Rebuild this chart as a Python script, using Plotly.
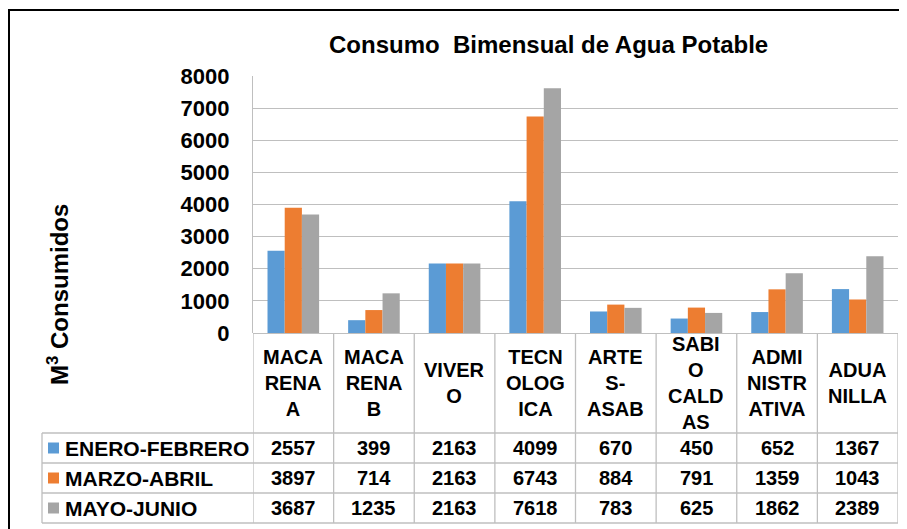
import plotly.graph_objects as go

# ---- data ----
categories = ["MACARENA A", "MACARENA B", "VIVERO", "TECNOLOGICA",
              "ARTES-ASAB", "SABIO CALDAS", "ADMINISTRATIVA", "ADUANILLA"]
category_labels = ["MACA<br>RENA<br>A", "MACA<br>RENA<br>B", "VIVER<br>O",
                   "TECN<br>OLOG<br>ICA", "ARTE<br>S-<br>ASAB", "SABI<br>O<br>CALD<br>AS",
                   "ADMI<br>NISTR<br>ATIVA", "ADUA<br>NILLA"]
series_names = ["ENERO-FEBRERO", "MARZO-ABRIL", "MAYO-JUNIO"]
enero_febrero = [2557, 399, 2163, 4099, 670, 450, 652, 1367]
marzo_abril = [3897, 714, 2163, 6743, 884, 791, 1359, 1043]
mayo_junio = [3687, 1235, 2163, 7618, 783, 625, 1862, 2389]
y_ticks = [0, 1000, 2000, 3000, 4000, 5000, 6000, 7000, 8000]
title_text = "Consumo  Bimensual de Agua Potable"
y_title = "M<sup>3</sup> Consumidos"

series_values = [enero_febrero, marzo_abril, mayo_junio]
colors = ["#5B9BD5", "#ED7D31", "#A5A5A5"]

# ---- geometry (page pixels; page body has an 8px margin) ----
OFF = 8
W, H = 907, 529
L, R, T, B = 253 - OFF, 898 - OFF, 76 - OFF, 333 - OFF
pw, ph = R - L, B - T

def px_x(px):
    return (px - OFF - L) / pw

def px_y(py):
    return (B - (py - OFF)) / ph

FONT = "Liberation Sans, Arial, sans-serif"
grid_c = "#BFBFBF"

fig = go.Figure()
for name, vals, c in zip(series_names, series_values, colors):
    fig.add_trace(go.Bar(x=categories, y=vals, name=name, marker=dict(color=c, line=dict(width=0))))

shapes = []
annotations = []

header_top = 333
header_bottom = 433
row_tops = [433, 463, 493]
row_h = 30
table_bottom = 523
legend_left = 42

for py in [header_bottom, 463, 493, table_bottom]:
    shapes.append(dict(type="line", xref="paper", yref="paper",
                       x0=px_x(legend_left), x1=1, y0=px_y(py), y1=px_y(py),
                       line=dict(color=grid_c, width=1.3)))
for i in range(len(categories) + 1):
    shapes.append(dict(type="line", xref="x", yref="paper",
                       x0=i - 0.5, x1=i - 0.5, y0=0, y1=px_y(table_bottom),
                       line=dict(color=grid_c, width=1.3)))
shapes.append(dict(type="line", xref="paper", yref="paper",
                   x0=px_x(legend_left), x1=px_x(legend_left),
                   y0=px_y(header_bottom), y1=px_y(table_bottom),
                   line=dict(color=grid_c, width=1.3)))
# outer chart border (black)
shapes.append(dict(type="rect", xref="paper", yref="paper",
                   x0=px_x(9), x1=px_x(925), y0=px_y(560), y1=px_y(10),
                   line=dict(color="#000000", width=2), layer="below"))

for i, lab in enumerate(category_labels):
    annotations.append(dict(text=lab, xref="x", yref="paper", x=i,
                            y=px_y((header_top + header_bottom) / 2), showarrow=False,
                            xanchor="center", yanchor="middle",
                            font=dict(family=FONT, size=20, color="#000000", weight="bold")))
for r, (name, vals, c) in enumerate(zip(series_names, series_values, colors)):
    cy = row_tops[r] + row_h / 2
    shapes.append(dict(type="rect", xref="paper", yref="paper",
                       x0=px_x(48), x1=px_x(59), y0=px_y(cy - 5.5), y1=px_y(cy + 5.5),
                       fillcolor=c, line=dict(width=0)))
    annotations.append(dict(text=name, xref="paper", yref="paper", x=px_x(63),
                            y=px_y(cy), showarrow=False, xanchor="left", yanchor="middle",
                            font=dict(family=FONT, size=21, color="#000000", weight="bold")))
    for i, v in enumerate(vals):
        annotations.append(dict(text=str(v), xref="x", yref="paper", x=i,
                                y=px_y(cy), showarrow=False, xanchor="center", yanchor="middle",
                                font=dict(family=FONT, size=20, color="#000000", weight="bold")))

annotations.append(dict(text=title_text, xref="paper", yref="paper", x=px_x(548), y=px_y(44),
                        showarrow=False, xanchor="center", yanchor="middle",
                        font=dict(family=FONT, size=24, color="#000000", weight="bold")))
annotations.append(dict(text=y_title, xref="paper", yref="paper", x=px_x(58), y=px_y(295),
                        showarrow=False, xanchor="center", yanchor="middle", textangle=-90,
                        font=dict(family=FONT, size=24, color="#000000", weight="bold")))

fig.update_layout(
    width=W, height=H,
    margin=dict(l=L, r=W - R, t=T, b=H - B, pad=0),
    paper_bgcolor="#FFFFFF", plot_bgcolor="#FFFFFF",
    font=dict(family=FONT, size=20, color="#000000", weight="bold"),
    barmode="group", bargap=0.36, bargroupgap=0,
    showlegend=False,
    shapes=shapes, annotations=annotations,
    xaxis=dict(type="category", range=[-0.5, len(categories) - 0.5],
               showticklabels=False, showgrid=False, zeroline=False,
               showline=False, ticks=""),
    yaxis=dict(range=[0, 8000], tickvals=y_ticks, showgrid=True, gridcolor=grid_c,
               gridwidth=1.3, zeroline=True, zerolinecolor=grid_c, zerolinewidth=1.3,
               showline=True, linecolor=grid_c, linewidth=1.3,
               ticks="outside", ticklen=18, tickcolor="rgba(0,0,0,0)",
               tickfont=dict(family=FONT, size=22, color="#000000", weight="bold")),
)

fig.write_html("out.html")
